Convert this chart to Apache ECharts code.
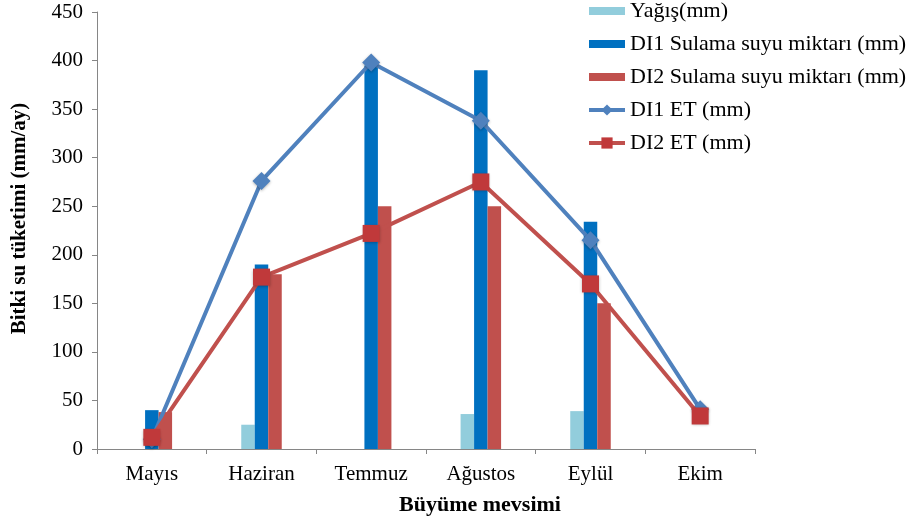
<!DOCTYPE html>
<html>
<head>
<meta charset="utf-8">
<script src="https://cdn.jsdelivr.net/npm/echarts@6/dist/echarts.min.js"></script>
<style>
  html, body { margin: 0; padding: 0; background: #fff; }
  #chart { width: 910px; height: 524px; }
</style>
</head>
<body>
<div id="chart"></div>
<script>
// months of the growing season
let months = ['Mayıs', 'Haziran', 'Temmuz', 'Ağustos', 'Eylül', 'Ekim'];

// values (mm)
let yagis = [0, 25, 0, 36, 39, 0];
let di1Sulama = [40, 190, 395, 390, 234, 0];
let di2Sulama = [38, 180, 250, 250, 150, 0];
let di1ET = [10, 276, 398, 338, 215, 41];
let di2ET = [12, 177, 222, 275, 170, 34];

let font = 'Liberation Serif';
let axisGray = '#868686';
let barIcon = 'path://M0,0h36v8h-36z';

let element = document.getElementById('chart');
let chart = echarts.init(element);

let option = {
    backgroundColor: '#fff',
    animation: false,
    textStyle: { fontFamily: font, color: '#000' },
    grid: { left: 97, right: 155, top: 12, bottom: 75 },
    legend: {
        orient: 'vertical',
        left: 582,
        top: -6,
        itemWidth: 36,
        itemHeight: 14,
        itemGap: 9,
        lineStyle: { width: 4 },
        textStyle: { fontFamily: font, fontSize: 22, color: '#000', lineHeight: 24 },
        data: [
            { name: 'Yağış(mm)', icon: barIcon },
            { name: 'DI1 Sulama suyu miktarı (mm)', icon: barIcon },
            { name: 'DI2 Sulama suyu miktarı (mm)', icon: barIcon },
            'DI1 ET (mm)',
            'DI2 ET (mm)'
        ]
    },
    xAxis: {
        type: 'category',
        data: months,
        name: 'Büyüme mevsimi',
        nameLocation: 'middle',
        nameGap: 45,
        nameTextStyle: { fontFamily: font, fontSize: 22, fontWeight: 'bold', color: '#000', padding: [0, 0, 0, 108] },
        axisLine: { lineStyle: { color: axisGray, width: 1 } },
        axisTick: { show: true, length: 5, lineStyle: { color: axisGray } },
        axisLabel: { fontFamily: font, fontSize: 21, color: '#000', margin: 15 },
        splitLine: { show: false }
    },
    yAxis: {
        type: 'value',
        min: 0,
        max: 450,
        interval: 50,
        name: 'Bitki su tüketimi (mm/ay)',
        nameLocation: 'middle',
        nameGap: 67,
        nameTextStyle: { fontFamily: font, fontSize: 21, fontWeight: 'bold', color: '#000', padding: [0, 0, 0, 24] },
        axisLine: { show: true, lineStyle: { color: axisGray, width: 1 } },
        axisTick: { show: true, inside: false, length: 5, lineStyle: { color: axisGray } },
        axisLabel: { fontFamily: font, fontSize: 21, color: '#000', margin: 14 },
        splitLine: { show: false }
    },
    series: [
        {
            name: 'Yağış(mm)',
            type: 'bar',
            data: yagis,
            barWidth: 13.5,
            barGap: '0%',
            itemStyle: { color: '#92CDDC' }
        },
        {
            name: 'DI1 Sulama suyu miktarı (mm)',
            type: 'bar',
            data: di1Sulama,
            barWidth: 13.5,
            barGap: '0%',
            itemStyle: { color: '#0070C0' }
        },
        {
            name: 'DI2 Sulama suyu miktarı (mm)',
            type: 'bar',
            data: di2Sulama,
            barWidth: 13.5,
            barGap: '0%',
            itemStyle: { color: '#C0504D' }
        },
        {
            name: 'DI1 ET (mm)',
            type: 'line',
            data: di1ET,
            z: 5,
            symbol: 'diamond',
            symbolSize: 18,
            lineStyle: { color: '#4F81BD', width: 4 },
            itemStyle: { color: '#4F81BD', shadowColor: 'rgba(0,0,0,0.3)', shadowBlur: 3, shadowOffsetY: 1 }
        },
        {
            name: 'DI2 ET (mm)',
            type: 'line',
            data: di2ET,
            z: 6,
            symbol: 'rect',
            symbolSize: 17,
            lineStyle: { color: '#C0504D', width: 4 },
            itemStyle: { color: '#C0393A', shadowColor: 'rgba(0,0,0,0.3)', shadowBlur: 3, shadowOffsetY: 1 }
        }
    ]
};

chart.setOption(option);
</script>
</body>
</html>
